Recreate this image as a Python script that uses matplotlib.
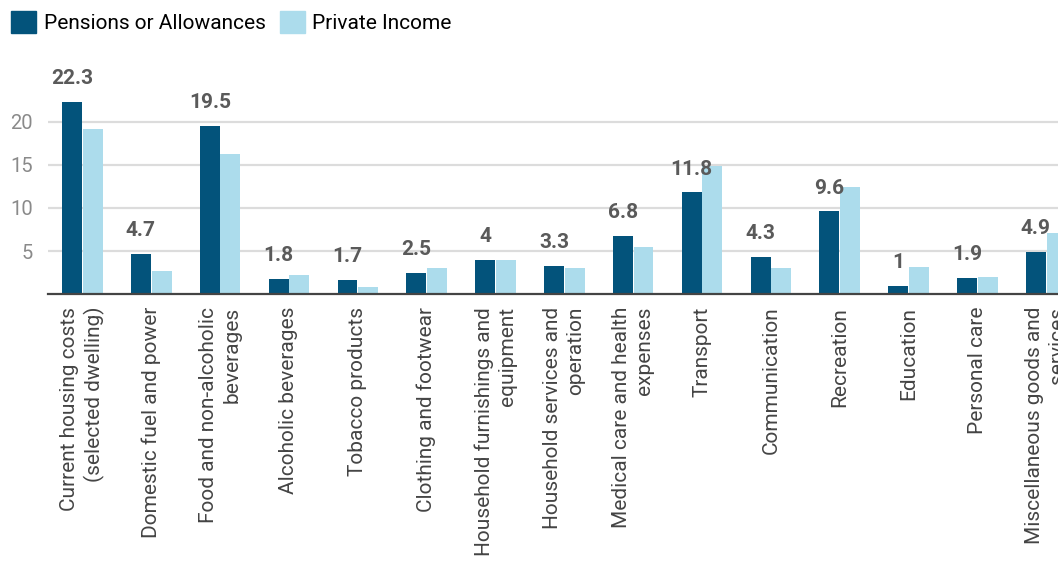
import matplotlib
matplotlib.use("Agg")
import matplotlib.pyplot as plt
import numpy as np
from matplotlib.patches import Patch

plt.rcParams['font.family'] = ['Roboto', 'DejaVu Sans']

categories = [
    "Current housing costs\n(selected dwelling)",
    "Domestic fuel and power",
    "Food and non-alcoholic\nbeverages",
    "Alcoholic beverages",
    "Tobacco products",
    "Clothing and footwear",
    "Household furnishings and\nequipment",
    "Household services and\noperation",
    "Medical care and health\nexpenses",
    "Transport",
    "Communication",
    "Recreation",
    "Education",
    "Personal care",
    "Miscellaneous goods and\nservices",
]
pensions = [22.3, 4.7, 19.5, 1.8, 1.7, 2.5, 4, 3.3, 6.8, 11.8, 4.3, 9.6, 1, 1.9, 4.9]
private = [19.2, 2.7, 16.3, 2.2, 0.8, 3.0, 4.0, 3.0, 5.5, 14.9, 3.0, 12.4, 3.2, 2.0, 7.1]
y_ticks = [5, 10, 15, 20]

dark = "#03537b"
light = "#acdcec"

fig = plt.figure(figsize=(10.58, 5.67), dpi=100)
# axes runs past the right edge so the last group is cut off
ax = fig.add_axes([0.0454, 0.481, 0.976, 0.3958])

x = np.arange(len(categories))
w = 0.29
ax.bar(x - 0.15, pensions, w, color=dark, zorder=3)
ax.bar(x + 0.15, private, w, color=light, zorder=3)

for xi, v in zip(x, pensions):
    ax.annotate(f"{v:g}", (xi - 0.15, v), xytext=(0, 10), textcoords="offset points",
                ha="center", va="bottom", fontsize=15, fontweight="bold",
                color="#5a5a5a", annotation_clip=False)

ax.set_xlim(-0.5, len(categories) - 0.5)
ax.set_ylim(0, 26)
ax.set_yticks(y_ticks)
ax.yaxis.grid(True, color="#dcdcdc", linewidth=1.6, zorder=0)
ax.set_xticks(x)
ax.set_xticklabels(categories, rotation=90, ha="center", va="top",
                   multialignment="right", linespacing=1.3)
ax.tick_params(axis="x", length=0, pad=9, labelsize=15, labelcolor="#444444")
ax.tick_params(axis="y", length=0, pad=11, labelsize=14.5, labelcolor="#8a8a8a")

for s in ["top", "right", "left"]:
    ax.spines[s].set_visible(False)
ax.spines["bottom"].set_color("#444444")
ax.spines["bottom"].set_linewidth(1.6)
ax.spines["bottom"].set_zorder(4)

handles = [Patch(color=dark, label="Pensions or Allowances"),
           Patch(color=light, label="Private Income")]
fig.legend(handles=handles, loc="upper left", bbox_to_anchor=(0.0, 1.0),
           ncol=2, frameon=False, fontsize=15, handlelength=1.2,
           handleheight=1.2, handletextpad=0.35, columnspacing=0.7,
           borderaxespad=0.25, borderpad=0.3)

fig.savefig("out.png", dpi=100)
